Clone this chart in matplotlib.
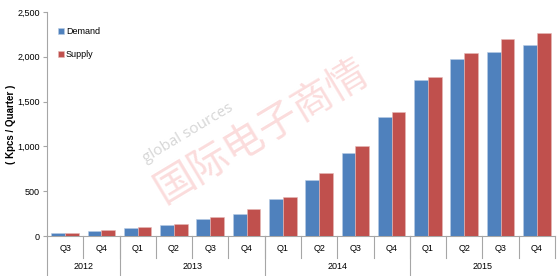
import matplotlib.pyplot as plt
import matplotlib.transforms as mtransforms
import numpy as np

# Dados (Kpcs por trimestre)
trimestres = ['Q3', 'Q4',
              'Q1', 'Q2', 'Q3', 'Q4',
              'Q1', 'Q2', 'Q3', 'Q4',
              'Q1', 'Q2', 'Q3', 'Q4']
anos = ['2012', '2013', '2014', '2015']
qtd_por_ano = [2, 4, 4, 4]
demanda = [30, 55, 93, 126, 193, 244, 411, 626, 922, 1333, 1737, 1981, 2059, 2137]
oferta = [37, 63, 100, 137, 207, 300, 437, 700, 1009, 1387, 1773, 2040, 2200, 2267]

cor_demanda = '#4F81BD'
cor_oferta = '#C0504D'
cor_eixo = '#A6A6A6'

plt.rcParams['font.family'] = ['Liberation Sans', 'DejaVu Sans']

fig = plt.figure(figsize=(5.58, 2.76), dpi=100)
ax = fig.add_axes([0.0842, 0.1449, 0.9104, 0.8116])

x = np.arange(len(trimestres))
largura = 0.38
ax.bar(x - largura / 2, demanda, largura, color=cor_demanda, edgecolor='#B9CDE5',
       linewidth=0.4, label='Demand', zorder=3)
ax.bar(x + largura / 2, oferta, largura, color=cor_oferta, edgecolor='#E6B9B8',
       linewidth=0.4, label='Supply', zorder=3)

ax.set_xlim(-0.5, len(trimestres) - 0.5)
ax.set_ylim(0, 2500)
ax.set_yticks(range(0, 2501, 500))
ax.set_yticklabels([f'{v:,}' for v in range(0, 2501, 500)], fontsize=6.5)
ax.tick_params(axis='y', length=3, color=cor_eixo, pad=2)
ax.set_xticks([])

for lado in ['top', 'right']:
    ax.spines[lado].set_visible(False)
ax.spines['left'].set_color(cor_eixo)
ax.spines['bottom'].set_color(cor_eixo)

# Rotulos das categorias (trimestres e anos)
trans = mtransforms.blended_transform_factory(ax.transData, ax.transAxes)
alt_q = -22 / 224
alt_a = -40 / 224
for i, q in enumerate(trimestres):
    ax.text(i, -12 / 224, q, transform=trans, ha='center', va='center', fontsize=6.5)
for b in np.arange(0.5, len(trimestres) - 0.5):
    ax.plot([b, b], [0, alt_q], transform=trans, color=cor_eixo, lw=0.8, clip_on=False)
ax.plot([len(trimestres) - 0.5] * 2, [0, alt_q], transform=trans, color=cor_eixo,
        lw=0.8, clip_on=False)

inicio = -0.5
for ano, n in zip(anos, qtd_por_ano):
    fim = inicio + n
    ax.text((inicio + fim) / 2, -30 / 224, ano, transform=trans, ha='center',
            va='center', fontsize=6.5)
    ax.plot([inicio, inicio], [0, alt_a], transform=trans, color=cor_eixo, lw=0.8,
            clip_on=False)
    inicio = fim

# Titulo do eixo y
fig.text(11 / 558, 1 - 124 / 276, '( Kpcs / Quarter )', rotation=90, fontsize=7,
         fontweight='bold', ha='center', va='center')

# Marca d'agua
fig.text(188 / 558, 1 - 133 / 276, 'global sources', rotation=31, fontsize=11,
         color='#D6D6D6', ha='center', va='center', zorder=0,
         family=['Open Sans', 'DejaVu Sans'])
fig.text(262 / 558, 1 - 131 / 276, '国际电子商情', rotation=31, fontsize=29,
         color='#FBDCDC', ha='center', va='center', zorder=0,
         family=['Noto Sans CJK SC', 'DejaVu Sans'])

ax.legend(loc='upper left', bbox_to_anchor=(0.005, 0.97), frameon=False, fontsize=6.5,
          handlelength=0.7, handleheight=0.7, handletextpad=0.2, labelspacing=1.6)

fig.savefig('out.png', dpi=100)
